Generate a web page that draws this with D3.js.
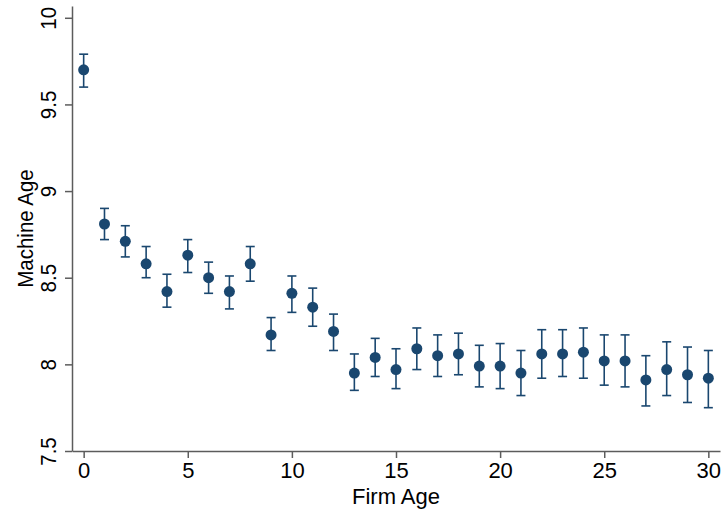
<!DOCTYPE html>
<html>
<head>
<meta charset="utf-8">
<script src="https://cdn.jsdelivr.net/npm/d3@7"></script>
<style>
  body { margin: 0; background: #fff; }
  svg { display: block; }
  text { font-family: "Liberation Sans", Arial, sans-serif; fill: #000; }
</style>
</head>
<body>
<div id="chart"></div>
<script>
// data
var firmAge = [0, 1, 2, 3, 4, 5, 6, 7, 8, 9, 10, 11, 12, 13, 14, 15,
  16, 17, 18, 19, 20, 21, 22, 23, 24, 25, 26, 27, 28, 29, 30];
var machineAge = [9.70, 8.81, 8.71, 8.58, 8.42, 8.63, 8.50, 8.42, 8.58, 8.17, 8.41, 8.33, 8.19, 7.95, 8.04, 7.97,
  8.09, 8.05, 8.06, 7.99, 7.99, 7.95, 8.06, 8.06, 8.07, 8.02, 8.02, 7.91, 7.97, 7.94, 7.92];
var ciLow = [9.60, 8.72, 8.62, 8.50, 8.33, 8.53, 8.41, 8.32, 8.48, 8.08, 8.30, 8.22, 8.08, 7.85, 7.93, 7.86,
  7.97, 7.93, 7.94, 7.87, 7.86, 7.82, 7.92, 7.93, 7.92, 7.88, 7.87, 7.76, 7.82, 7.78, 7.75];
var ciHigh = [9.79, 8.90, 8.80, 8.68, 8.52, 8.72, 8.59, 8.51, 8.68, 8.27, 8.51, 8.44, 8.29, 8.06, 8.15, 8.09,
  8.21, 8.17, 8.18, 8.11, 8.12, 8.08, 8.20, 8.20, 8.21, 8.17, 8.17, 8.05, 8.13, 8.10, 8.08];
var xTicks = [0, 5, 10, 15, 20, 25, 30];
var yTicks = [7.5, 8, 8.5, 9, 9.5, 10];

var width = 724, height = 515;
var plot = {left: 72, right: 720, top: 6, bottom: 451};
var navy = "#1a476f";
var axisColor = "#5c5c5c";
var fontH = "22px";    // horizontal text
var fontV = "20.5px";  // rotated text (drawn slightly wider, as in the original)

var svg = d3.select("#chart").append("svg")
  .attr("width", width)
  .attr("height", height);

svg.append("rect").attr("width", width).attr("height", height).attr("fill", "#fff");

var x = d3.scaleLinear().domain([-0.56, 30.56]).range([plot.left, plot.right]);
var y = d3.scaleLinear().domain([7.5, 10.068]).range([plot.bottom, plot.top]);

var data = firmAge.map(function(a, i) {
  return {age: a, value: machineAge[i], lo: ciLow[i], hi: ciHigh[i]};
});

//axes
var xAxis = d3.axisBottom(x)
  .tickValues(xTicks)
  .tickFormat(d3.format("d"))
  .tickSizeInner(7)
  .tickSizeOuter(0)
  .tickPadding(4);
var yAxis = d3.axisLeft(y)
  .tickValues(yTicks)
  .tickFormat(function(d) { return String(d); })
  .tickSizeInner(7)
  .tickSizeOuter(0)
  .tickPadding(0);

var gx = svg.append("g")
  .attr("transform", "translate(0," + plot.bottom + ")")
  .call(xAxis);
gx.select(".domain").attr("stroke", axisColor).attr("stroke-width", 1.5);
gx.selectAll(".tick line").attr("stroke", axisColor).attr("stroke-width", 1.5);
gx.selectAll(".tick text")
  .attr("fill", "#000")
  .style("font-size", fontH)
  .style("font-family", "'Liberation Sans', Arial, sans-serif");

var gy = svg.append("g")
  .attr("transform", "translate(" + plot.left + ",0)")
  .call(yAxis);
gy.select(".domain").attr("stroke", axisColor).attr("stroke-width", 1.5);
gy.selectAll(".tick line").attr("stroke", axisColor).attr("stroke-width", 1.5);
// rotated tick labels like the original
gy.selectAll(".tick text")
  .attr("x", null).attr("dy", null)
  .attr("transform", "translate(-16,0) scale(1.08,1) rotate(-90)")
  .attr("text-anchor", "middle")
  .attr("fill", "#000")
  .style("font-size", fontV)
  .style("font-family", "'Liberation Sans', Arial, sans-serif");

//axis titles
svg.append("text")
  .attr("x", (plot.left + plot.right) / 2)
  .attr("y", 504)
  .attr("text-anchor", "middle")
  .style("font-size", fontH)
  .text("Firm Age");
svg.append("text")
  .attr("transform", "translate(33," + (plot.top + plot.bottom) / 2 + ") scale(1.08,1) rotate(-90)")
  .attr("text-anchor", "middle")
  .style("font-size", fontV)
  .text("Machine Age");

//error bars
var cap = 4.5;
var bars = svg.append("g")
  .attr("stroke", navy)
  .attr("stroke-width", 1.6)
  .attr("fill", "none");
bars.selectAll("line.stem").data(data).enter().append("line")
  .attr("class", "stem")
  .attr("x1", function(d) { return x(d.age); })
  .attr("x2", function(d) { return x(d.age); })
  .attr("y1", function(d) { return y(d.lo); })
  .attr("y2", function(d) { return y(d.hi); });
bars.selectAll("line.top").data(data).enter().append("line")
  .attr("class", "top")
  .attr("x1", function(d) { return x(d.age) - cap; })
  .attr("x2", function(d) { return x(d.age) + cap; })
  .attr("y1", function(d) { return y(d.hi); })
  .attr("y2", function(d) { return y(d.hi); });
bars.selectAll("line.bot").data(data).enter().append("line")
  .attr("class", "bot")
  .attr("x1", function(d) { return x(d.age) - cap; })
  .attr("x2", function(d) { return x(d.age) + cap; })
  .attr("y1", function(d) { return y(d.lo); })
  .attr("y2", function(d) { return y(d.lo); });

//points
svg.append("g").selectAll("circle").data(data).enter().append("circle")
  .attr("cx", function(d) { return x(d.age); })
  .attr("cy", function(d) { return y(d.value); })
  .attr("r", 5.5)
  .attr("fill", navy);
</script>
</body>
</html>
